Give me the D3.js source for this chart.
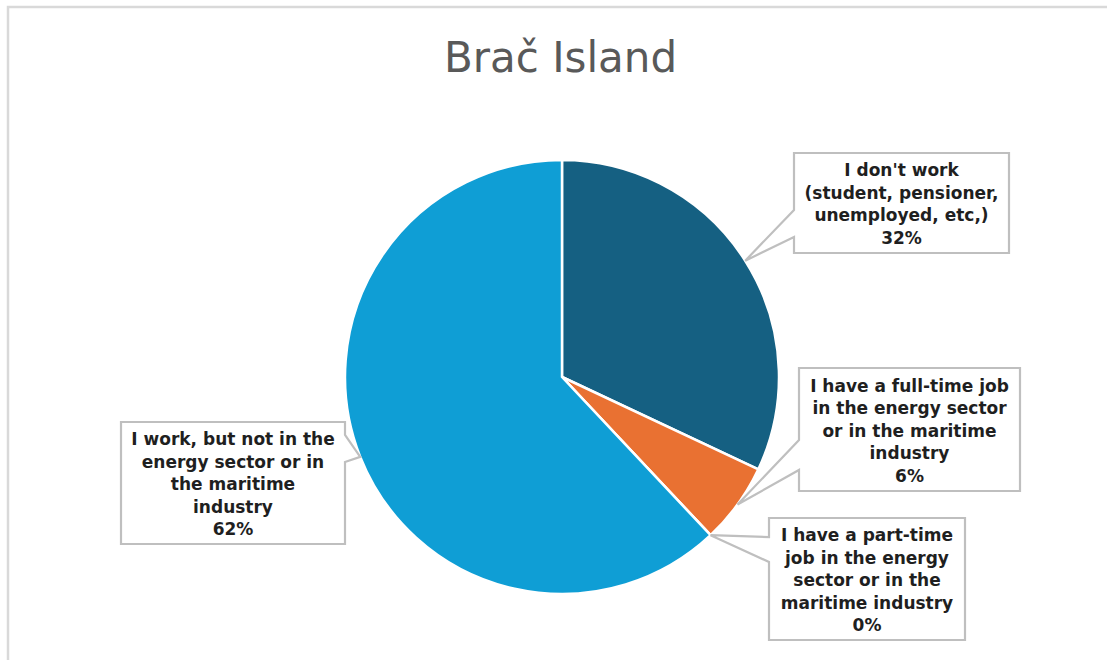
<!DOCTYPE html>
<html>
<head>
<meta charset="utf-8">
<script src="https://cdn.jsdelivr.net/npm/d3@7/dist/d3.min.js"></script>
<style>
  html, body { margin: 0; padding: 0; background: #fff; }
  svg { display: block; }
</style>
</head>
<body>
<svg id="chart" width="1107" height="660"></svg>
<script>
// ---- Data ----
const title = "Brač Island";
const categories = [
  "I don't work (student, pensioner, unemployed, etc,)",
  "I have a full-time job in the energy sector or in the maritime industry",
  "I have a part-time job in the energy sector or in the maritime industry",
  "I work, but not in the energy sector or in the maritime industry"
];
const values = [32, 6, 0, 62];
const percentLabels = ["32%", "6%", "0%", "62%"];
const labelLines = [
  ["I don't work", "(student, pensioner,", "unemployed, etc,)"],
  ["I have a full-time job", "in the energy sector", "or in the maritime", "industry"],
  ["I have a part-time", "job in the energy", "sector or in the", "maritime industry"],
  ["I work, but not in the", "energy sector or in", "the maritime", "industry"]
];
const colors = ["#156082", "#E97132", "#196B24", "#0F9ED5"];

// ---- Layout ----
const W = 1107, H = 660;
const cx = 562, cy = 377, R = 217;
// callout boxes: x, y, w, h, side of pointer, pointer span along edge (from top)
const boxes = [
  {x: 794, y: 153, w: 215, h: 100, side: "left",  p0: 57, p1: 84},
  {x: 799, y: 368, w: 221, h: 123, side: "left",  p0: 72, p1: 102},
  {x: 769, y: 518, w: 196, h: 122, side: "left",  p0: 19, p1: 44},
  {x: 121, y: 422, w: 224, h: 122, side: "right", p0: 13, p1: 40}
];

const svg = d3.select("#chart");

// frame
svg.append("path")
  .attr("d", `M8,${H + 5} L8,7 L${W + 5},7`)
  .attr("fill", "none")
  .attr("stroke", "#d9d9d9")
  .attr("stroke-width", 2.5);

// title
svg.append("text")
  .attr("x", 560.5)
  .attr("y", 72)
  .attr("text-anchor", "middle")
  .attr("font-family", "'DejaVu Sans', sans-serif")
  .attr("font-size", 42)
  .attr("fill", "#595959")
  .text(title);

// pie
const pie = d3.pie().sort(null).value(d => d)(values);
const arc = d3.arc().innerRadius(0).outerRadius(R);
const g = svg.append("g").attr("transform", `translate(${cx},${cy})`);
g.selectAll("path.slice")
  .data(pie)
  .join("path")
  .attr("class", "slice")
  .attr("d", arc)
  .attr("fill", (d, i) => colors[i])
  .attr("stroke", "#fff")
  .attr("stroke-width", 2.5)
  .attr("stroke-linejoin", "round");

// callouts
const fontSize = 17, lineH = 22.5;
pie.forEach((d, i) => {
  const b = boxes[i];
  const a = (d.startAngle + d.endAngle) / 2;
  const tx = cx + R * Math.sin(a), ty = cy - R * Math.cos(a);
  let path;
  if (b.side === "left") {
    path = `M${b.x},${b.y} L${b.x + b.w},${b.y} L${b.x + b.w},${b.y + b.h} L${b.x},${b.y + b.h}` +
           ` L${b.x},${b.y + b.p1} L${tx},${ty} L${b.x},${b.y + b.p0} Z`;
  } else {
    path = `M${b.x},${b.y} L${b.x + b.w},${b.y} L${b.x + b.w},${b.y + b.p0} L${tx},${ty}` +
           ` L${b.x + b.w},${b.y + b.p1} L${b.x + b.w},${b.y + b.h} L${b.x},${b.y + b.h} Z`;
  }
  svg.append("path")
    .attr("d", path)
    .attr("fill", "#fff")
    .attr("stroke", "#bfbfbf")
    .attr("stroke-width", 2.2)
    .attr("stroke-linejoin", "miter");

  const lines = labelLines[i].concat([percentLabels[i]]);
  const midY = b.y + b.h / 2 + 1;
  const firstY = midY - (lines.length - 1) * lineH / 2;
  const t = svg.append("text")
    .attr("text-anchor", "middle")
    .attr("font-family", "'DejaVu Sans', sans-serif")
    .attr("font-weight", "bold")
    .attr("font-size", fontSize)
    .attr("fill", "#1f1f1f");
  lines.forEach((ln, k) => {
    t.append("tspan")
      .attr("x", b.x + b.w / 2)
      .attr("y", firstY + k * lineH)
      .attr("dy", "0.36em")
      .text(ln);
  });
});
</script>
</body>
</html>
